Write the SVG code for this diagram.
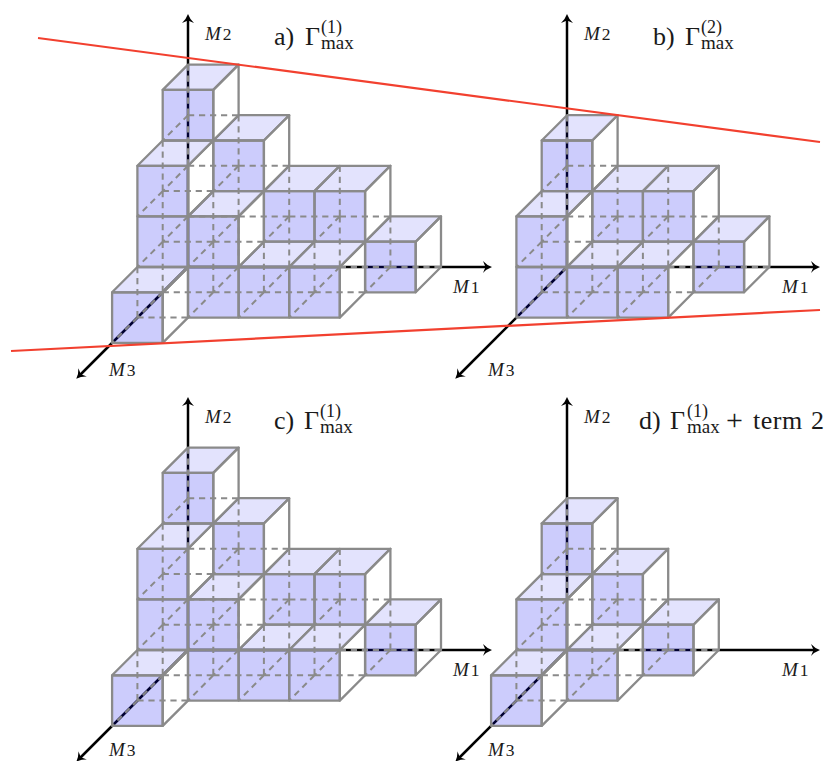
<svg xmlns="http://www.w3.org/2000/svg" width="826" height="761" viewBox="0 0 826 761">
<style>
.bg{fill:#fff}
.front{fill:#0000f0;fill-opacity:.2;stroke:#8a8a8a;stroke-width:2.3;stroke-linejoin:round}
.top{fill:#0000f0;fill-opacity:.11;stroke:#8a8a8a;stroke-width:2.3;stroke-linejoin:round}
.side{fill:none;stroke:#8a8a8a;stroke-width:2.3;stroke-linejoin:round}
.hid{fill:none;stroke:#8a8a8a;stroke-width:2;stroke-dasharray:6.2 4.8}
.axis{fill:none;stroke:#000;stroke-width:2.5;marker-end:url(#arrow)}
.red{fill:none;stroke:#f2402f;stroke-width:2.2}
text{font-family:"Liberation Serif","Times New Roman",serif;fill:#1a1a1a}
.lab{font-size:17.5px}
.lab .m{font-style:italic;font-size:19px}
.title{font-size:26px}
.s{font-size:18px}
.sub{font-size:19px}
</style>
<defs>
<marker id="arrow" markerUnits="userSpaceOnUse" markerWidth="14" markerHeight="16" viewBox="0 -8 14 16" refX="3" refY="0" orient="auto">
<path d="M0,-6Q3.500,-2 9,0Q3.500,2 0,6L2.500,0Z" fill="#000"/>
</marker>
<rect id="f" class="front" x="-25.3" y="-25.3" width="50.6" height="50.6"/>
<path id="t" class="top" d="M-25.3,-25.3H25.3L50.6,-50.6H0Z"/>
<path id="s" class="side" d="M25.3,-25.3L50.6,-50.6V0L25.3,25.3Z"/>
<g id="ft"><use href="#f"/><use href="#t"/></g>
<g id="fts"><use href="#f"/><use href="#t"/><use href="#s"/></g>
<path id="h" class="hid" d="M0,-50.6V0M0,0H50.6M0,0L-25.3,25.3"/>
<g id="dashA">
<use href="#h" x="0" y="0"/><use href="#h" x="0" y="-50.6"/><use href="#h" x="0" y="-101.2"/><use href="#h" x="0" y="-151.8"/>
<use href="#h" x="50.6" y="0"/><use href="#h" x="50.6" y="-50.6"/><use href="#h" x="50.6" y="-101.2"/>
<use href="#h" x="101.2" y="0"/><use href="#h" x="101.2" y="-50.6"/>
<use href="#h" x="151.8" y="0"/><use href="#h" x="151.8" y="-50.6"/>
<use href="#h" x="202.4" y="0"/>
<use href="#h" x="-25.3" y="25.3"/><use href="#h" x="-25.3" y="-25.3"/><use href="#h" x="-25.3" y="-75.9"/>
<use href="#h" x="25.3" y="25.3"/><use href="#h" x="25.3" y="-25.3"/>
<use href="#h" x="75.9" y="25.3"/><use href="#h" x="126.5" y="25.3"/>
<use href="#h" x="-50.6" y="50.6"/>
</g>
</defs>
<rect class="bg" width="826" height="761"/>

<g id="panel-a" transform="translate(188 267)">
<g id="a-axes">
<path id="a-m1" class="axis" d="M0,0H298"/>
<path id="a-m2" class="axis" d="M0,0V-247"/>
<path id="a-m3" class="axis" d="M0,0L-107.500,107.500"/>
</g>
<g id="a-cube-030" transform="translate(0 -151.8)"><use href="#fts"/></g>
<g id="a-cube-120" transform="translate(50.6 -101.2)"><use href="#fts"/></g>
<g id="a-cube-210" transform="translate(101.2 -50.6)"><use href="#ft"/></g>
<g id="a-cube-310" transform="translate(151.8 -50.6)"><use href="#fts"/></g>
<g id="a-cube-400" transform="translate(202.4 0)"><use href="#fts"/></g>
<g id="a-cube-021" transform="translate(-25.3 -75.9)"><use href="#fts"/></g>
<g id="a-cube-011" transform="translate(-25.3 -25.3)"><use href="#f"/></g>
<g id="a-cube-111" transform="translate(25.3 -25.3)"><use href="#fts"/></g>
<g id="a-cube-101" transform="translate(25.3 25.3)"><use href="#f"/></g>
<g id="a-cube-201" transform="translate(75.9 25.3)"><use href="#ft"/></g>
<g id="a-cube-301" transform="translate(126.5 25.3)"><use href="#fts"/></g>
<g id="a-cube-002" transform="translate(-50.6 50.6)"><use href="#fts"/></g>
<use id="a-hidden" href="#dashA"/>
</g>
<g id="a-labels">
<text class="lab" x="205" y="40"><tspan class="m">M</tspan><tspan dx="2">2</tspan></text>
<text class="lab" x="453" y="293"><tspan class="m">M</tspan><tspan dx="2">1</tspan></text>
<text class="lab" x="109" y="376"><tspan class="m">M</tspan><tspan dx="2">3</tspan></text>
<text class="title" x="274" y="45">a)<tspan x="305">Γ</tspan><tspan class="s" x="321" y="33">(1)</tspan><tspan class="sub" x="321" y="49">max</tspan></text>
</g>

<g id="panel-b" transform="translate(567 267)">
<g id="b-axes">
<path id="b-m1" class="axis" d="M0,0H247"/>
<path id="b-m2" class="axis" d="M0,0V-247"/>
<path id="b-m3" class="axis" d="M0,0L-107.500,107.500"/>
</g>
<g id="b-cube-020" transform="translate(0 -101.2)"><use href="#fts"/></g>
<g id="b-cube-110" transform="translate(50.6 -50.6)"><use href="#ft"/></g>
<g id="b-cube-210" transform="translate(101.2 -50.6)"><use href="#fts"/></g>
<g id="b-cube-300" transform="translate(151.8 0)"><use href="#fts"/></g>
<g id="b-cube-011" transform="translate(-25.3 -25.3)"><use href="#fts"/></g>
<g id="b-cube-001" transform="translate(-25.3 25.3)"><use href="#f"/></g>
<g id="b-cube-101" transform="translate(25.3 25.3)"><use href="#ft"/></g>
<g id="b-cube-201" transform="translate(75.9 25.3)"><use href="#fts"/></g>
<g id="b-hidden">
<use href="#h" x="0" y="0"/><use href="#h" x="0" y="-50.6"/><use href="#h" x="0" y="-101.2"/>
<use href="#h" x="50.6" y="0"/><use href="#h" x="50.6" y="-50.6"/>
<use href="#h" x="101.2" y="0"/><use href="#h" x="101.2" y="-50.6"/>
<use href="#h" x="151.8" y="0"/>
<use href="#h" x="-25.3" y="25.3"/><use href="#h" x="-25.3" y="-25.3"/>
<use href="#h" x="25.3" y="25.3"/><use href="#h" x="75.9" y="25.3"/>
</g>
</g>
<g id="b-labels">
<text class="lab" x="584" y="40"><tspan class="m">M</tspan><tspan dx="2">2</tspan></text>
<text class="lab" x="782" y="293"><tspan class="m">M</tspan><tspan dx="2">1</tspan></text>
<text class="lab" x="488" y="376"><tspan class="m">M</tspan><tspan dx="2">3</tspan></text>
<text class="title" x="653" y="45">b)<tspan x="685">Γ</tspan><tspan class="s" x="701" y="33">(2)</tspan><tspan class="sub" x="701" y="49">max</tspan></text>
</g>

<g id="panel-c" transform="translate(188 650)">
<g id="c-axes">
<path id="c-m1" class="axis" d="M0,0H298"/>
<path id="c-m2" class="axis" d="M0,0V-247"/>
<path id="c-m3" class="axis" d="M0,0L-107.500,107.500"/>
</g>
<g id="c-cube-030" transform="translate(0 -151.8)"><use href="#fts"/></g>
<g id="c-cube-120" transform="translate(50.6 -101.2)"><use href="#fts"/></g>
<g id="c-cube-210" transform="translate(101.2 -50.6)"><use href="#ft"/></g>
<g id="c-cube-310" transform="translate(151.8 -50.6)"><use href="#fts"/></g>
<g id="c-cube-400" transform="translate(202.4 0)"><use href="#fts"/></g>
<g id="c-cube-021" transform="translate(-25.3 -75.9)"><use href="#fts"/></g>
<g id="c-cube-011" transform="translate(-25.3 -25.3)"><use href="#f"/></g>
<g id="c-cube-111" transform="translate(25.3 -25.3)"><use href="#fts"/></g>
<g id="c-cube-101" transform="translate(25.3 25.3)"><use href="#f"/></g>
<g id="c-cube-201" transform="translate(75.9 25.3)"><use href="#ft"/></g>
<g id="c-cube-301" transform="translate(126.5 25.3)"><use href="#fts"/></g>
<g id="c-cube-002" transform="translate(-50.6 50.6)"><use href="#fts"/></g>
<use id="c-hidden" href="#dashA"/>
</g>
<g id="c-labels">
<text class="lab" x="205" y="423"><tspan class="m">M</tspan><tspan dx="2">2</tspan></text>
<text class="lab" x="453" y="676"><tspan class="m">M</tspan><tspan dx="2">1</tspan></text>
<text class="lab" x="109" y="756"><tspan class="m">M</tspan><tspan dx="2">3</tspan></text>
<text class="title" x="274" y="429">c)<tspan x="304">Γ</tspan><tspan class="s" x="320" y="417">(1)</tspan><tspan class="sub" x="320" y="433">max</tspan></text>
</g>

<g id="panel-d" transform="translate(567 650)">
<g id="d-axes">
<path id="d-m1" class="axis" d="M0,0H247"/>
<path id="d-m2" class="axis" d="M0,0V-247"/>
<path id="d-m3" class="axis" d="M0,0L-107.500,107.500"/>
</g>
<g id="d-cube-020" transform="translate(0 -101.2)"><use href="#fts"/></g>
<g id="d-cube-110" transform="translate(50.6 -50.6)"><use href="#fts"/></g>
<g id="d-cube-200" transform="translate(101.2 0)"><use href="#fts"/></g>
<g id="d-cube-011" transform="translate(-25.3 -25.3)"><use href="#fts"/></g>
<g id="d-cube-101" transform="translate(25.3 25.3)"><use href="#fts"/></g>
<g id="d-cube-002" transform="translate(-50.6 50.6)"><use href="#fts"/></g>
<g id="d-hidden">
<use href="#h" x="0" y="0"/><use href="#h" x="0" y="-50.6"/><use href="#h" x="0" y="-101.2"/>
<use href="#h" x="50.6" y="0"/><use href="#h" x="50.6" y="-50.6"/>
<use href="#h" x="101.2" y="0"/>
<use href="#h" x="-25.3" y="25.3"/><use href="#h" x="-25.3" y="-25.3"/>
<use href="#h" x="25.3" y="25.3"/>
<use href="#h" x="-50.6" y="50.6"/>
</g>
</g>
<g id="d-labels">
<text class="lab" x="584" y="423"><tspan class="m">M</tspan><tspan dx="2">2</tspan></text>
<text class="lab" x="782" y="676"><tspan class="m">M</tspan><tspan dx="2">1</tspan></text>
<text class="lab" x="488" y="756"><tspan class="m">M</tspan><tspan dx="2">3</tspan></text>
<text class="title" x="639" y="429">d)<tspan x="670">Γ</tspan><tspan class="s" x="687" y="417">(1)</tspan><tspan class="sub" x="687" y="433">max</tspan><tspan x="726" y="430" font-size="30">+</tspan><tspan x="753" y="429" letter-spacing=".5">term</tspan><tspan x="811" y="429">2</tspan></text>
</g>

<g id="connectors">
<path id="red-top" class="red" d="M38,38L820,142"/>
<path id="red-bottom" class="red" d="M11,351L820,310"/>
</g>
</svg>
